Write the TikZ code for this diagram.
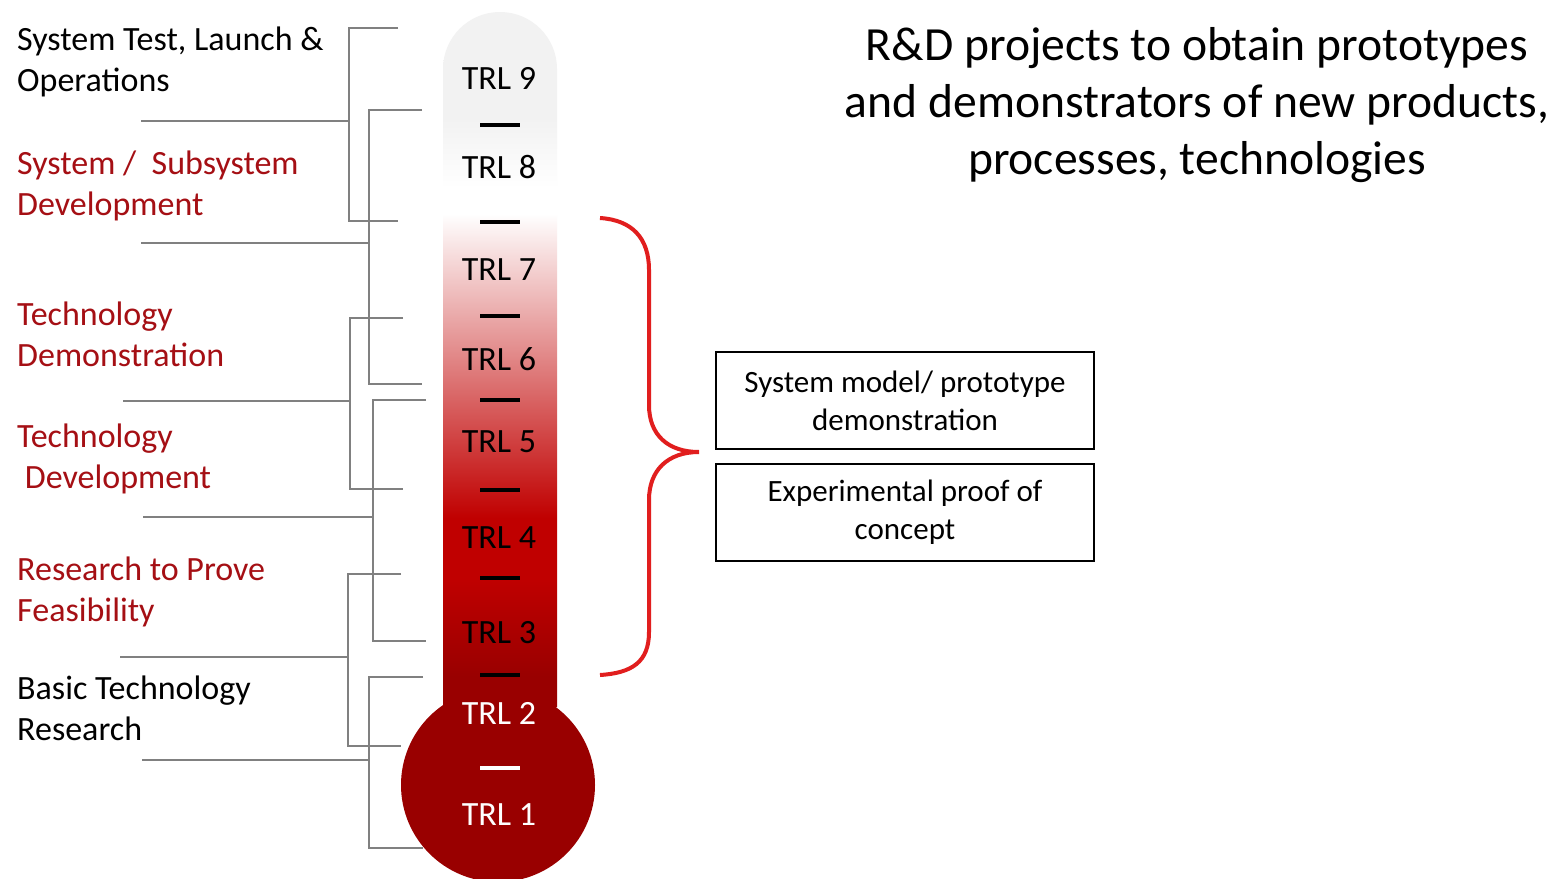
\documentclass[tikz,border=0pt]{standalone}
\usepackage{fontspec}
\setmainfont{Carlito}
\usetikzlibrary{positioning}
\definecolor{trlgray}{HTML}{F2F2F2}
\definecolor{trlred}{HTML}{C00000}
\definecolor{trldark}{HTML}{990000}
\definecolor{phasered}{RGB}{165,15,20}
\definecolor{linegray}{RGB}{128,128,128}
\definecolor{bracered}{RGB}{225,30,30}
% thermometer colours, bottom to top
\pgfdeclareverticalshading{trlshading}{100bp}{color(0bp)=(trldark); color(27.2bp)=(trldark);
  color(34.3bp)=(trlred); color(38.6bp)=(trlred); color(60.5bp)=(white); color(62.3bp)=(white);
  color(67.3bp)=(trlgray); color(100bp)=(trlgray)}

\begin{document}
\begin{tikzpicture}[
  x=1pt, y=-1pt,
  bracket/.style={draw=linegray,line width=2.5pt},
  phase/.style={anchor=base west,inner sep=0pt,align=left,font=\fontsize{34}{41}\selectfont},
  trl/.style={inner sep=0pt,font=\fontsize{34}{41}\selectfont},
  tickmark/.style={line width=4pt},
  result/.style={draw,line width=2pt,minimum width=378pt,minimum height=97pt,
    align=center,font=\fontsize{31}{38}\selectfont},
  brace/.style={draw=bracered,line width=4pt}
]
\useasboundingbox[fill=white] (0,0) rectangle (1557,878);

% phase brackets on the left
\foreach \vx/\ya/\yb/\rx/\my/\lx in {349/28/221/398/121/141, 369/110/384/422/243/141,
    350/318/489/403/401/123, 373/400/641/426/517/143,
    348/574/746/401/657/120, 369/677/848/423/760/142}
  \draw[bracket] (\lx,\my) -- (\vx,\my) (\rx,\ya) -| (\vx,\yb) -- (\rx,\yb);

% (base = last line)
\node[phase] (ops) at (17,91) {System Test, Launch \&\\Operations};
\node[phase,text=phasered] (subsys) at (17,215) {System /~~Subsystem\\Development};
\node[phase,text=phasered] (demo) at (17,366) {Technology\\Demonstration};
\node[phase,text=phasered] (techdev) at (17,488) {Technology\\~Development};
\node[phase,text=phasered] (feas) at (17,621) {Research to Prove\\Feasibility};
\node[phase] (basic) at (17,740) {Basic Technology\\Research};

% thermometer
\shade[shading=trlshading] (443,707) -- (443,69) arc[start angle=180,end angle=360,radius=57]
  -- (557,707) -- cycle;
\fill[trldark] (498,785) circle[radius=97];
\foreach \y in {125,222,316,400,490,578,675}
  \draw[tickmark] (480,\y) -- (520,\y);
\draw[tickmark,white] (480,768) -- (520,768);
\foreach \n/\y in {9/78,8/167.5,7/270,6/359,5/442,4/538,3/633}
  \node[trl] (trl\n) at (499,\y) {TRL \n};
\node[trl,text=white] (trl2) at (499,713) {TRL 2};
\node[trl,text=white] (trl1) at (499,815) {TRL 1};

% brace and results
\coordinate (tip) at (699,452);
\draw[brace] (600,218) .. controls (632,220) and (649,238) .. (649,270) -- (649,405)
  .. controls (649,435) and (668,452) .. (tip)
  .. controls (668,452) and (649,470) .. (649,500) -- (649,632)
  .. controls (649,662) and (632,673) .. (600,675);
\node[result] (model) at (905,400.5) {System model/ prototype\\demonstration};
\node[result,below=12.5pt of model] (proof) {Experimental proof of\\concept};

\node[anchor=base,inner sep=0pt,align=center,font=\fontsize{47.6}{57}\selectfont] (goal) at (1197,174)
  {R\&D projects to obtain prototypes\\and demonstrators of new products,\\processes, technologies};
\end{tikzpicture}
\end{document}
